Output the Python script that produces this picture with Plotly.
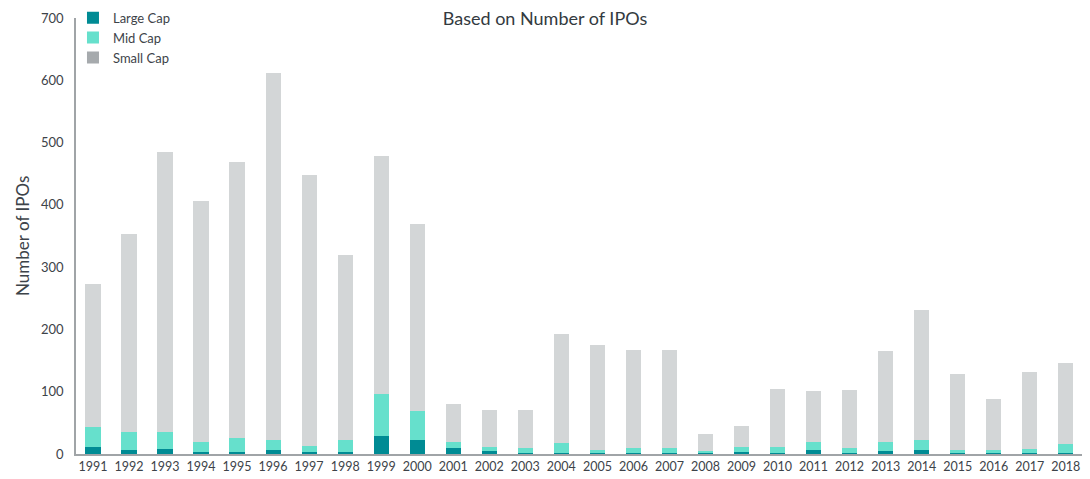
import plotly.graph_objects as go

years = [str(y) for y in range(1991, 2019)]
large_cap = [12, 6, 8, 3, 4, 7, 3, 4, 29, 22, 10, 5, 2, 2, 2, 2, 1, 1, 3, 2, 7, 2, 5, 7, 1, 1, 2, 2]
mid_cap = [31, 30, 27, 16, 22, 15, 10, 18, 67, 47, 9, 7, 8, 15, 5, 8, 8, 4, 9, 9, 12, 8, 14, 15, 5, 5, 6, 14]
totals = [273, 353, 485, 406, 469, 612, 448, 319, 478, 369, 80, 71, 70, 193, 175, 167, 167, 32, 45, 104, 101, 103, 165, 231, 129, 88, 131, 146]
small_cap = [t - l - m for t, l, m in zip(totals, large_cap, mid_cap)]

C_LARGE = "#008b94"
C_MID = "#66e0cc"
C_SMALL = "#d3d6d7"
C_SMALL_LEG = "#a6aaad"
FONT = "Lato"
TXT = "#3d4349"

fig = go.Figure()
for name, vals, col in [("Large Cap", large_cap, C_LARGE), ("Mid Cap", mid_cap, C_MID), ("Small Cap", small_cap, C_SMALL)]:
    fig.add_trace(go.Bar(x=years, y=vals, name=name, marker=dict(color=col, line=dict(width=0)),
                         width=0.42, showlegend=False))
for name, col in [("Large Cap", C_LARGE), ("Mid Cap", C_MID), ("Small Cap", C_SMALL_LEG)]:
    fig.add_trace(go.Scatter(x=[None], y=[None], mode="markers", name=name,
                             marker=dict(symbol="square", size=10, color=col)))

fig.update_layout(
    barmode="stack",
    width=1090, height=479,
    margin=dict(l=76, r=8, t=18, b=25, autoexpand=False),
    plot_bgcolor="white", paper_bgcolor="white",
    font=dict(family=FONT, color=TXT, size=13),
    title=dict(text="Based on Number of IPOs", x=0.5, xanchor="center", y=0.96, yanchor="middle",
               font=dict(size=18, color="#333a40", family=FONT)),
    legend=dict(x=-0.003, y=1.035, xanchor="left", yanchor="top", bgcolor="rgba(0,0,0,0)",
                traceorder="normal", font=dict(size=13, color=TXT), itemsizing="constant",
                tracegroupgap=0),
    xaxis=dict(type="category", range=[-0.47, 27.45], showline=True, linecolor="#a0a4a7", linewidth=1.5,
               ticks="", tickfont=dict(size=12.5, color=TXT), showgrid=False, automargin=False),
    yaxis=dict(range=[0, 700], dtick=100, showline=True, linecolor="#a0a4a7", linewidth=1.5,
               ticks="", showgrid=False, zeroline=False, tickfont=dict(size=13, color=TXT),
               ticklabelstandoff=8, automargin=False),
    annotations=[dict(text="Number of IPOs", textangle=-90, xref="paper", yref="paper",
                      x=-0.0537, y=0.5, xanchor="center", yanchor="middle", showarrow=False,
                      font=dict(size=17, color=TXT, family=FONT))],
)
fig.write_html("out.html", config={"displayModeBar": False},
               post_script="document.body.style.margin='0';document.body.style.overflow='hidden';")
